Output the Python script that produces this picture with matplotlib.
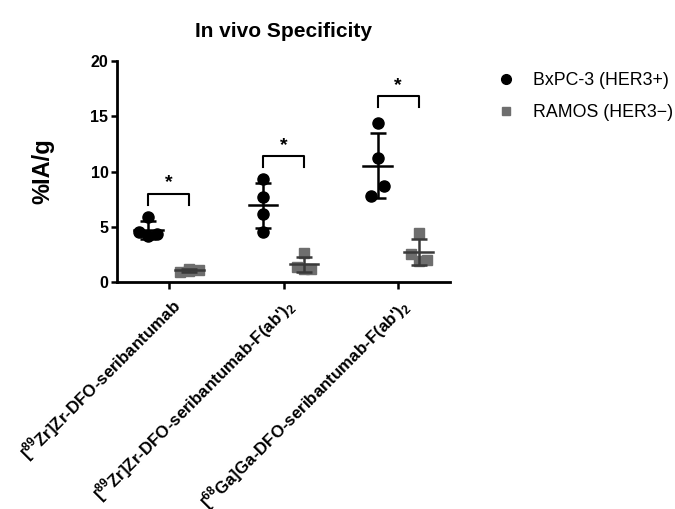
import numpy as np
import matplotlib
matplotlib.use("Agg")
import matplotlib.pyplot as plt

plt.rcParams['font.family'] = ['Liberation Sans', 'DejaVu Sans']
plt.rcParams['mathtext.fontset'] = 'custom'
plt.rcParams['mathtext.rm'] = 'Liberation Sans'

# werte (%IA/g)
labels = [r"[$^{\mathregular{89}}$Zr]Zr-DFO-seribantumab",
          r"[$^{\mathregular{89}}$Zr]Zr-DFO-seribantumab-F(ab')$_{\mathregular{2}}$",
          r"[$^{\mathregular{68}}$Ga]Ga-DFO-seribantumab-F(ab')$_{\mathregular{2}}$"]
bxpc3 = [[5.9, 4.5, 4.2, 4.3],
         [9.3, 7.7, 6.2, 4.5],
         [14.4, 11.2, 8.7, 7.8]]
ramos = [[1.2, 0.9, 1.0, 1.1],
         [2.6, 1.4, 1.2, 1.2],
         [4.4, 2.5, 2.0, 1.9]]
bracket_y = [8.0, 11.4, 16.8]

# kleine horizontale verschiebung damit punkte nicht ueberlappen
jit_b = [[0.0, -0.08, 0.0, 0.08], [0.0, 0.0, 0.0, 0.0], [0.0, 0.0, 0.06, -0.06]]
jit_r = [[0.0, -0.08, 0.0, 0.08], [0.0, -0.06, 0.0, 0.06], [0.0, -0.07, 0.07, 0.0]]

gray = '#6e6e6e'
off = 0.18

fig = plt.figure(figsize=(6.75, 5.09), dpi=100)
ax = fig.add_axes([0.173, 0.446, 0.494, 0.434])

for i in range(3):
    for vals, jit, sign, col, mk, ms, lc in [
            (bxpc3[i], jit_b[i], -1, 'black', 'o', 8, 'black'),
            (ramos[i], jit_r[i], 1, gray, 's', 7, '#3a3a3a')]:
        x0 = i + sign * off
        ax.plot(x0 + np.array(jit), vals, linestyle='none', marker=mk,
                color=col, markersize=ms, zorder=3)
        m = np.mean(vals)
        s = np.std(vals, ddof=1)
        ax.plot([x0 - 0.125, x0 + 0.125], [m, m], color=lc, lw=1.8, zorder=4)
        ax.errorbar([x0], [m], yerr=[s], color=lc, lw=1.8, capsize=5.5,
                    capthick=1.8, fmt='none', zorder=4)

    # signifikanz klammer
    y = bracket_y[i]
    ax.plot([i - off, i - off, i + off, i + off], [y - 1.0, y, y, y - 1.0],
            color='black', lw=1.5)
    ax.text(i, y + 0.2, '*', ha='center', va='bottom', fontsize=14,
            fontweight='bold')

ax.set_xlim(-0.454, 2.454)
ax.set_ylim(0, 20)
ax.set_yticks([0, 5, 10, 15, 20])
ax.set_xticks([0, 1, 2])
ax.set_xticklabels(labels, rotation=45, ha='right', rotation_mode='anchor',
                   fontsize=12.2, fontweight='bold')
for t in ax.get_yticklabels():
    t.set_fontweight('bold')
ax.tick_params(axis='y', labelsize=11.5, width=1.8, length=4, pad=2)
ax.tick_params(axis='x', width=1.8, length=5, pad=4)
for sp in ['top', 'right']:
    ax.spines[sp].set_visible(False)
for sp in ['left', 'bottom']:
    ax.spines[sp].set_linewidth(2)

ax.set_ylabel('%IA/g', fontsize=17, fontweight='bold', labelpad=26)
ax.set_title('In vivo Specificity', fontsize=15, fontweight='bold', pad=17)

h1, = ax.plot([], [], 'o', color='black', markersize=7, linestyle='none')
h2, = ax.plot([], [], 's', color=gray, markersize=6, linestyle='none')
fig.legend([h1, h2], ['BxPC-3 (HER3+)', 'RAMOS (HER3\u2212)'],
           loc='upper left', bbox_to_anchor=(0.7, 0.89), frameon=False,
           fontsize=12.8, handletextpad=0.5, labelspacing=0.85)

fig.savefig('out.png', dpi=100)
